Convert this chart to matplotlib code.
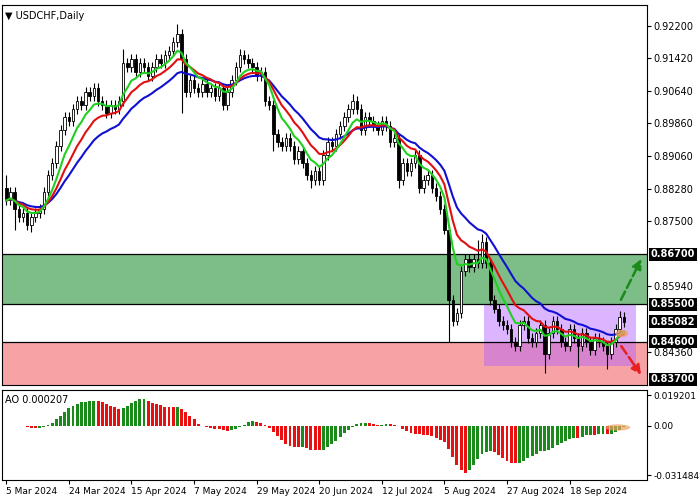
import numpy as np
import pandas as pd
import matplotlib.pyplot as plt
from matplotlib.patches import Rectangle, Ellipse

# daily closes USDCHF, 5 Mar - 27 Sep 2024
closes = [
    0.880, 0.882, 0.878, 0.876, 0.877, 0.874, 0.876, 0.877,
    0.878, 0.882, 0.886, 0.889, 0.893, 0.897, 0.900, 0.899,
    0.902, 0.904, 0.903, 0.906, 0.905, 0.907, 0.904, 0.903,
    0.901, 0.903, 0.902, 0.904, 0.913, 0.912, 0.914, 0.911,
    0.913, 0.912, 0.910, 0.912, 0.914, 0.913, 0.915, 0.916,
    0.918, 0.920, 0.914, 0.906, 0.909, 0.907, 0.906, 0.908,
    0.906, 0.907, 0.905, 0.907, 0.903, 0.906, 0.909, 0.912,
    0.915, 0.914, 0.913, 0.912, 0.910, 0.911, 0.904, 0.903,
    0.896, 0.894, 0.893, 0.895, 0.893, 0.890, 0.892, 0.889,
    0.886, 0.885, 0.887, 0.885, 0.891, 0.894, 0.893, 0.896,
    0.898, 0.900, 0.902, 0.904, 0.902, 0.897, 0.900, 0.899,
    0.898, 0.897, 0.899, 0.898, 0.894, 0.895, 0.885, 0.889,
    0.887, 0.889, 0.891, 0.883, 0.885, 0.886, 0.883, 0.881,
    0.878, 0.873, 0.856, 0.851, 0.853, 0.863, 0.866, 0.864,
    0.866, 0.865, 0.870, 0.865, 0.856, 0.854, 0.851, 0.850,
    0.849, 0.846, 0.845, 0.850, 0.851, 0.847, 0.846, 0.848,
    0.850, 0.843, 0.848, 0.851, 0.849, 0.846, 0.845, 0.849,
    0.847, 0.845, 0.848, 0.846, 0.844, 0.847, 0.846, 0.845,
    0.843, 0.846, 0.849, 0.852, 0.85082,
]
first_open = 0.883
wick = 0.0012
# notable wick extremes {bar index: price}
big_highs = {0: 0.8860, 28: 0.9165, 41: 0.9225, 56: 0.9165, 83: 0.9055, 113: 0.8705, 114: 0.8720, 147: 0.8535}
big_lows = {2: 0.8730, 6: 0.8725, 42: 0.9010, 64: 0.8920, 73: 0.8830, 94: 0.8830,
            106: 0.8460, 108: 0.8500, 129: 0.8385, 137: 0.8400, 144: 0.8395}

date_labels = ["5 Mar 2024", "24 Mar 2024", "15 Apr 2024", "7 May 2024", "29 May 2024",
               "20 Jun 2024", "12 Jul 2024", "5 Aug 2024", "27 Aug 2024", "18 Sep 2024"]
label_idx = [0, 15, 30, 45, 60, 75, 90, 105, 120, 135]

price_ticks = [0.92200, 0.91420, 0.90640, 0.89860, 0.89060, 0.88280, 0.87500, 0.85940, 0.84360]
boxed_levels = [0.86700, 0.85500, 0.85082, 0.84600, 0.83700]
zone_green = (0.855, 0.867)
zone_red = (0.830, 0.846)
box_range = (0.8402, 0.8550)
ao_label = "AO 0.000207"

c = np.array(closes)
o = np.concatenate([[first_open], c[:-1]])
h = np.maximum(o, c) + wick
l = np.minimum(o, c) - wick
for k, v in big_highs.items():
    h[k] = v
for k, v in big_lows.items():
    l[k] = v
n = len(c)
x = np.arange(n)

s = pd.Series(c)
ma_fast = s.ewm(span=7, adjust=False).mean()
ma_mid = s.ewm(span=12, adjust=False).mean()
ma_slow = s.ewm(span=20, adjust=False).mean()
med = pd.Series((h + l) / 2)
ao = (med.rolling(5, min_periods=1).mean() - med.rolling(34, min_periods=1).mean()).values

fig = plt.figure(figsize=(7, 5), dpi=100)
ax = fig.add_axes([0.003, 0.23, 0.921, 0.76])
ax2 = fig.add_axes([0.003, 0.04, 0.921, 0.18])
xmin, xmax = -1, 153.5

# zones
ax.add_patch(Rectangle((xmin, zone_green[0]), xmax - xmin, zone_green[1] - zone_green[0],
                       facecolor="#7dbd87", edgecolor="none", zorder=0))
ax.add_patch(Rectangle((xmin, zone_red[0]), xmax - xmin, zone_red[1] - zone_red[0],
                       facecolor="#f7a3a6", edgecolor="none", zorder=0))
ax.add_patch(Rectangle((114.5, box_range[0]), 36.5, box_range[1] - box_range[0],
                       facecolor="#b05cff", alpha=0.45, edgecolor="none", zorder=1))
for lv in (0.867, 0.855, 0.846):
    ax.axhline(lv, color="black", lw=0.9, zorder=1)

# candles
for i in x:
    ax.vlines(i, l[i], h[i], color="black", lw=0.8, zorder=3)
    bull = c[i] >= o[i]
    lo, hi = min(o[i], c[i]), max(o[i], c[i])
    ax.add_patch(Rectangle((i - 0.3, lo), 0.6, max(hi - lo, 0.0002),
                           facecolor="white" if bull else "black", edgecolor="black",
                           lw=0.6, zorder=4))

ax.plot(x, ma_slow, color="#1010d0", lw=1.5, zorder=5)
ax.plot(x, ma_mid, color="#e01010", lw=1.5, zorder=5)
ax.plot(x, ma_fast, color="#20d020", lw=1.5, zorder=5)

# forecast arrows
ax.annotate("", xy=(152.5, 0.8665), xytext=(147, 0.8555),
            arrowprops=dict(arrowstyle="-|>", ls="--", color="#1a8a1a", lw=1.8, mutation_scale=14))
ax.annotate("", xy=(152.5, 0.8375), xytext=(147, 0.8455),
            arrowprops=dict(arrowstyle="-|>", ls="--", color="#e82020", lw=1.8, mutation_scale=14))
ax.add_patch(Ellipse((147.5, 0.848), 3, 0.0018, facecolor="#f0a060", alpha=0.8, zorder=6))

ax.set_xlim(xmin, xmax)
ax.set_ylim(0.8356, 0.9270)
ax.yaxis.tick_right()
ax.set_yticks(price_ticks)
ax.set_yticklabels([f"{t:.5f}" for t in price_ticks], fontsize=7)
ax.tick_params(axis="y", length=3, pad=2)
ax.set_xticks([])
for lv in boxed_levels:
    ax.text(1.006, lv, f"{lv:.5f}", transform=ax.get_yaxis_transform(), fontsize=7,
            color="white", va="center", ha="left", fontweight="bold",
            bbox=dict(boxstyle="square,pad=0.15", facecolor="black", edgecolor="none"),
            clip_on=False)
ax.text(0.005, 0.985, "\u25bc USDCHF,Daily", transform=ax.transAxes, fontsize=7, va="top")

# AO
cols = ["#1a8a1a"] + ["#1a8a1a" if ao[i] >= ao[i - 1] else "#e81010" for i in range(1, n)]
ax2.bar(x, ao, width=0.7, color=cols)
ax2.add_patch(Ellipse((146.5, ao[-1]), 6, 0.004, facecolor="#f0a060", alpha=0.7, zorder=3))
ax2.set_xlim(xmin, xmax)
ax2.set_ylim(-0.0345, 0.0225)
ax2.yaxis.tick_right()
ax2.set_yticks([0.019201, 0.0, -0.031484])
ax2.set_yticklabels(["0.019201", "0.00", "-0.031484"], fontsize=6.5)
ax2.tick_params(axis="y", length=3, pad=2)
ax2.set_xticks(label_idx)
ax2.set_xticklabels(date_labels, fontsize=6.5, ha="left")
ax2.tick_params(axis="x", length=3, pad=2)
ax2.text(0.005, 0.94, ao_label, transform=ax2.transAxes, fontsize=7, va="top")

fig.savefig("out.png", dpi=100)
